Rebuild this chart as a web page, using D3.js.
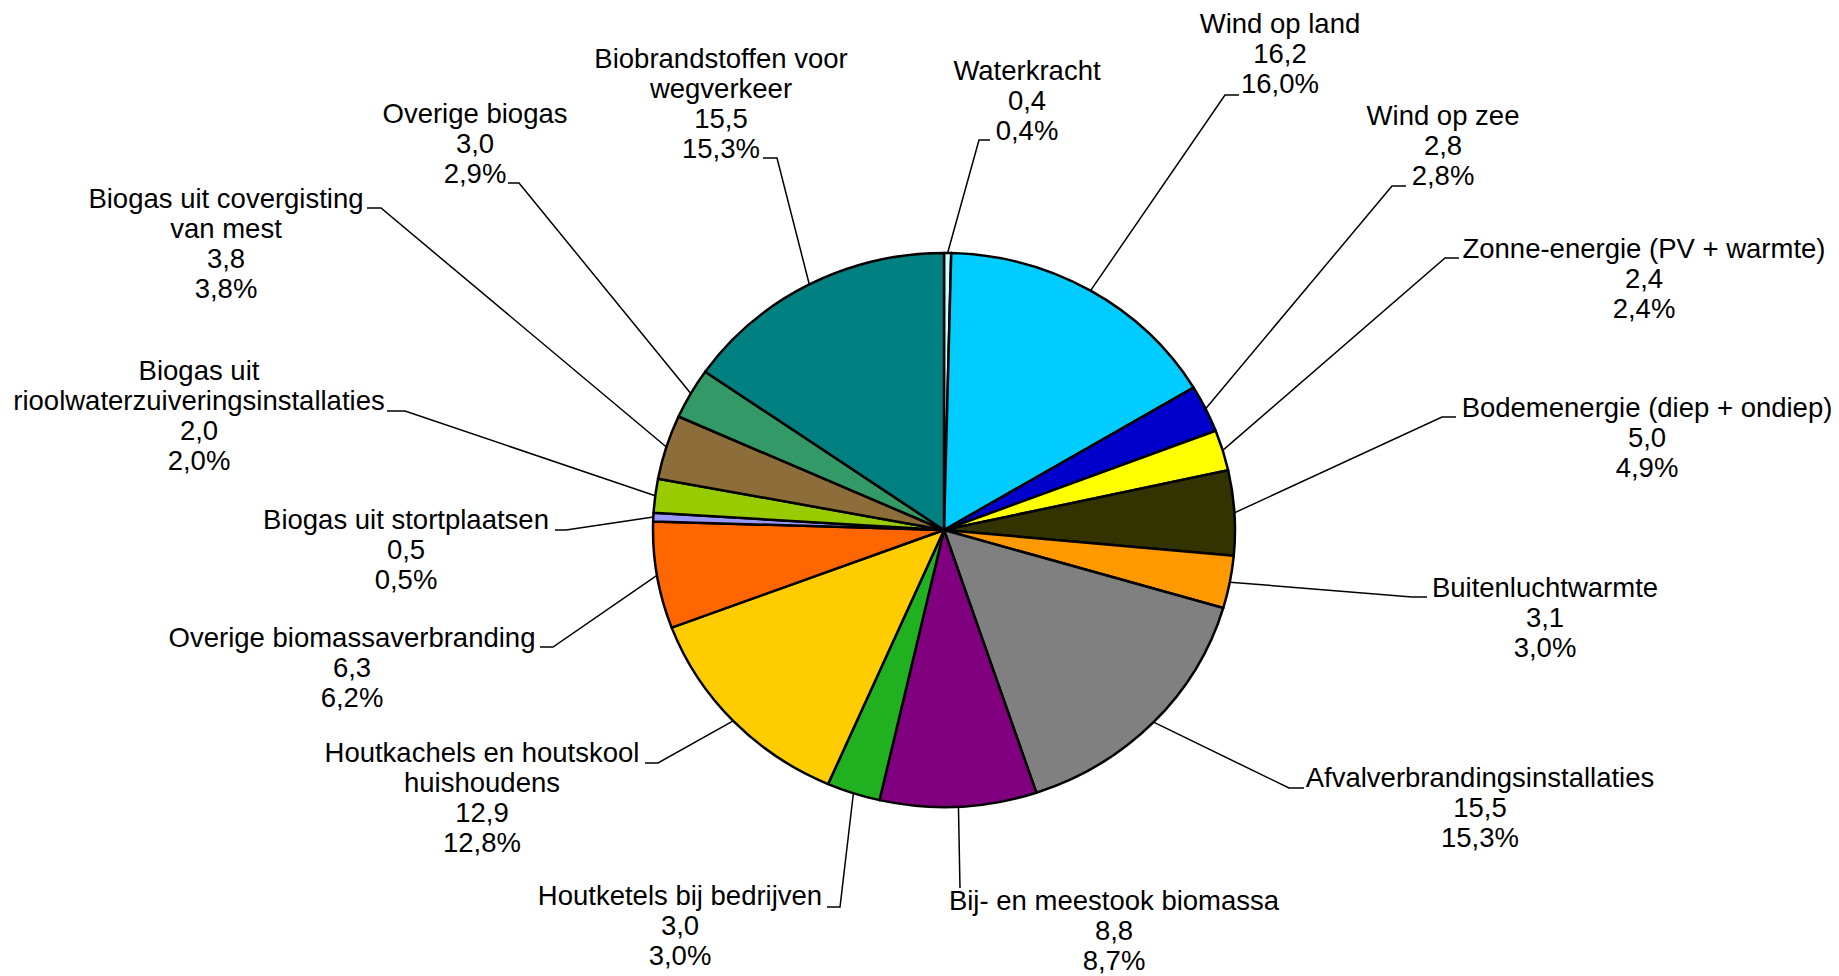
<!DOCTYPE html>
<html lang="nl">
<head>
<meta charset="UTF-8">
<title>Hernieuwbare energie</title>
<script src="https://d3js.org/d3.v7.min.js"></script>
<style>
  body { margin: 0; background: #fff; }
  svg text { font-family: "Liberation Sans", Arial, sans-serif; font-size: 27.5px; fill: #000; }
</style>
</head>
<body>
<div id="chart"></div>
<script>
// categories, clockwise from 12 o'clock
var categories = [
  "Waterkracht",
  "Wind op land",
  "Wind op zee",
  "Zonne-energie (PV + warmte)",
  "Bodemenergie (diep + ondiep)",
  "Buitenluchtwarmte",
  "Afvalverbrandingsinstallaties",
  "Bij- en meestook biomassa",
  "Houtketels bij bedrijven",
  "Houtkachels en houtskool\nhuishoudens",
  "Overige biomassaverbranding",
  "Biogas uit stortplaatsen",
  "Biogas uit\nrioolwaterzuiveringsinstallaties",
  "Biogas uit covergisting\nvan mest",
  "Overige biogas",
  "Biobrandstoffen voor\nwegverkeer"
];
var values   = [0.4, 16.2, 2.8, 2.4, 5.0, 3.1, 15.5, 8.8, 3.0, 12.9, 6.3, 0.5, 2.0, 3.8, 3.0, 15.5];
var percents = [0.4, 16.0, 2.8, 2.4, 4.9, 3.0, 15.3, 8.7, 3.0, 12.8, 6.2, 0.5, 2.0, 3.8, 2.9, 15.3];
var colors = ["#ccffff", "#00ccff", "#0000cc", "#ffff00", "#333300", "#ff9900", "#808080", "#800080",
              "#20b020", "#ffcc00", "#ff6600", "#9999ff", "#99cc00", "#8d6e3a", "#339966", "#008080"];

// label layout: text centre x, first baseline y, elbow point, end of short horizontal
var labelPos = [
  {x: 1027, y: 80,  ex: 979,  ey: 140, hx: 990},
  {x: 1280, y: 33,  ex: 1225, ey: 95,  hx: 1239},
  {x: 1443, y: 125, ex: 1392, ey: 186, hx: 1406},
  {x: 1644, y: 258, ex: 1445, ey: 258, hx: 1459},
  {x: 1647, y: 417, ex: 1442, ey: 417, hx: 1456},
  {x: 1545, y: 597, ex: 1412, ey: 597, hx: 1427},
  {x: 1480, y: 787, ex: 1289, ey: 788, hx: 1304},
  {x: 1114, y: 910, ex: 960,  ey: 888, hx: 960},
  {x: 680,  y: 905, ex: 840,  ey: 907, hx: 827},
  {x: 482,  y: 762, ex: 658,  ey: 763, hx: 645},
  {x: 352,  y: 647, ex: 553,  ey: 647, hx: 540},
  {x: 406,  y: 529, ex: 566,  ey: 530, hx: 555},
  {x: 199,  y: 380, ex: 405,  ey: 411, hx: 387},
  {x: 226,  y: 208, ex: 381,  ey: 208, hx: 367},
  {x: 475,  y: 123, ex: 519,  ey: 183, hx: 508},
  {x: 721,  y: 68,  ex: 777,  ey: 158, hx: 763}
];

var width = 1839, height = 976;
var cx = 944, cy = 530, rx = 291, ry = 277;
var lineH = 30;

var fmt = function(v) { return d3.format(".1f")(v).replace(".", ","); };

var data = categories.map(function(c, i) {
  return {name: c, value: values[i], pct: percents[i], color: colors[i], pos: labelPos[i]};
});

var svg = d3.select("#chart").append("svg")
  .attr("width", width)
  .attr("height", height);

var pie = d3.pie().sort(null).value(function(d) { return d.value; });
var arc = d3.arc().innerRadius(0).outerRadius(rx);
var arcs = pie(data);

// pie is slightly flattened vertically, like the original
var g = svg.append("g")
  .attr("transform", "translate(" + cx + "," + cy + ") scale(1," + (ry / rx) + ")");

g.selectAll("path")
  .data(arcs)
  .enter().append("path")
  .attr("d", arc)
  .attr("fill", function(d) { return d.data.color; })
  .attr("stroke", "#000")
  .attr("stroke-width", 2.5)
  .attr("stroke-linejoin", "round")
  .attr("vector-effect", "non-scaling-stroke");

// leader lines
svg.append("g").selectAll("polyline")
  .data(arcs)
  .enter().append("polyline")
  .attr("points", function(d) {
    var a = (d.startAngle + d.endAngle) / 2;
    var px = cx + rx * Math.sin(a), py = cy - ry * Math.cos(a);
    var p = d.data.pos;
    return [[px, py], [p.ex, p.ey], [p.hx, p.ey]].join(" ");
  })
  .attr("fill", "none")
  .attr("stroke", "#000")
  .attr("stroke-width", 1.5);

// labels
var labels = svg.append("g").selectAll("text")
  .data(data)
  .enter().append("text")
  .attr("text-anchor", "middle")
  .attr("x", function(d) { return d.pos.x; })
  .attr("y", function(d) { return d.pos.y; });

labels.each(function(d) {
  var lines = d.name.split("\n").concat([fmt(d.value), fmt(d.pct) + "%"]);
  var t = d3.select(this);
  lines.forEach(function(l, i) {
    t.append("tspan")
      .attr("x", d.pos.x)
      .attr("dy", i === 0 ? 0 : lineH)
      .text(l);
  });
});
</script>
</body>
</html>
